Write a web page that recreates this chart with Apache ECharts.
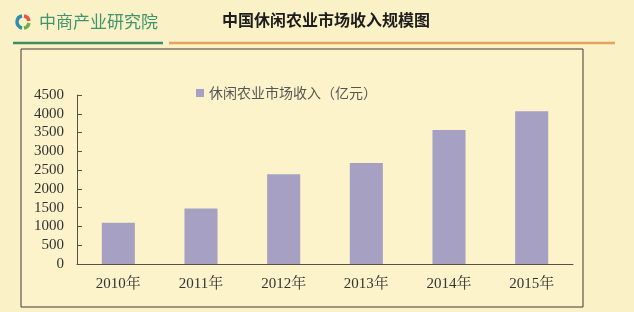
<!DOCTYPE html>
<html><head><meta charset="utf-8">
<script src="https://cdn.jsdelivr.net/npm/echarts@6/dist/echarts.min.js"></script>
<style>html,body{margin:0;padding:0;background:#fbf1c6;}#c{width:634px;height:312px;}</style>
</head><body><div id="c"></div>
<script>
const categories = ['2010年','2011年','2012年','2013年','2014年','2015年'];
const revenue = [1100, 1480, 2390, 2690, 3570, 4070];
const seriesName = '休闲农业市场收入（亿元）';
const chartTitle = '中国休闲农业市场收入规模图';
const brand = '中商产业研究院';

const chart = echarts.init(document.getElementById('c'), null, {renderer:'canvas'});
const serif = '"Liberation Serif","Noto Serif CJK SC","Noto Sans CJK SC",serif';
chart.setOption({
  backgroundColor: '#fbf1c6',
  animation: false,
  graphic: [
    {type:'rect', shape:{x:21,y:49,width:562,height:258}, style:{fill:'#fcf3cb', stroke:'#3d3a33', lineWidth:1}, z:-10},
    {type:'line', shape:{x1:13,y1:43,x2:163,y2:43}, style:{stroke:'#3f8a68', lineWidth:2.5}},
    {type:'line', shape:{x1:169,y1:43,x2:615,y2:43}, style:{stroke:'#e0a45e', lineWidth:2.5}},
    {type:'arc', shape:{cx:23,cy:22,r:6,startAngle:Math.PI*0.55,endAngle:Math.PI*1.45}, style:{stroke:'#2e8fa8', lineWidth:3.5, fill:null}},
    {type:'arc', shape:{cx:23,cy:22,r:6,startAngle:Math.PI*1.55,endAngle:Math.PI*1.95}, style:{stroke:'#e2584a', lineWidth:3.5, fill:null}},
    {type:'arc', shape:{cx:23,cy:22,r:6,startAngle:Math.PI*0.05,endAngle:Math.PI*0.45}, style:{stroke:'#6cae4b', lineWidth:3.5, fill:null}},
    {type:'text', left:39, top:13, style:{text:brand, fill:'#3f9470', font:'400 17px "Noto Sans CJK SC"'}},
    {type:'text', left:222, top:12, style:{text:chartTitle, fill:'#1d1d1d', font:'bold 16px "Noto Sans CJK SC"'}}
  ],
  legend: {
    left: 191, top: 81, itemWidth: 8, itemHeight: 8, itemGap: 6,
    icon: 'rect',
    textStyle: {fontFamily:'"Noto Sans CJK SC"', fontSize: 14, color:'#555'},
    data: [seriesName]
  },
  grid: {left: 77, right: 61, top: 95, bottom: 48, containLabel: false},
  xAxis: {
    type: 'category', data: categories,
    axisLine: {lineStyle:{color:'#55524a', width:1}},
    axisTick: {inside:true, length:4, lineStyle:{color:'#55524a'}},
    axisLabel: {fontFamily: serif, fontSize: 15, color:'#333', margin: 13}
  },
  yAxis: {
    type: 'value', min: 0, max: 4500, interval: 500,
    axisLine: {show:true, lineStyle:{color:'#55524a', width:1}},
    axisTick: {show:true, inside:true, length:5, lineStyle:{color:'#55524a'}},
    splitLine: {show:false},
    axisLabel: {fontFamily: serif, fontSize: 15, color:'#333', margin: 13, formatter: v => String(v)}
  },
  series: [{
    name: seriesName, type: 'bar', data: revenue, barWidth: '40%',
    itemStyle: {color: '#a6a0c3'}
  }]
});
</script></body></html>
